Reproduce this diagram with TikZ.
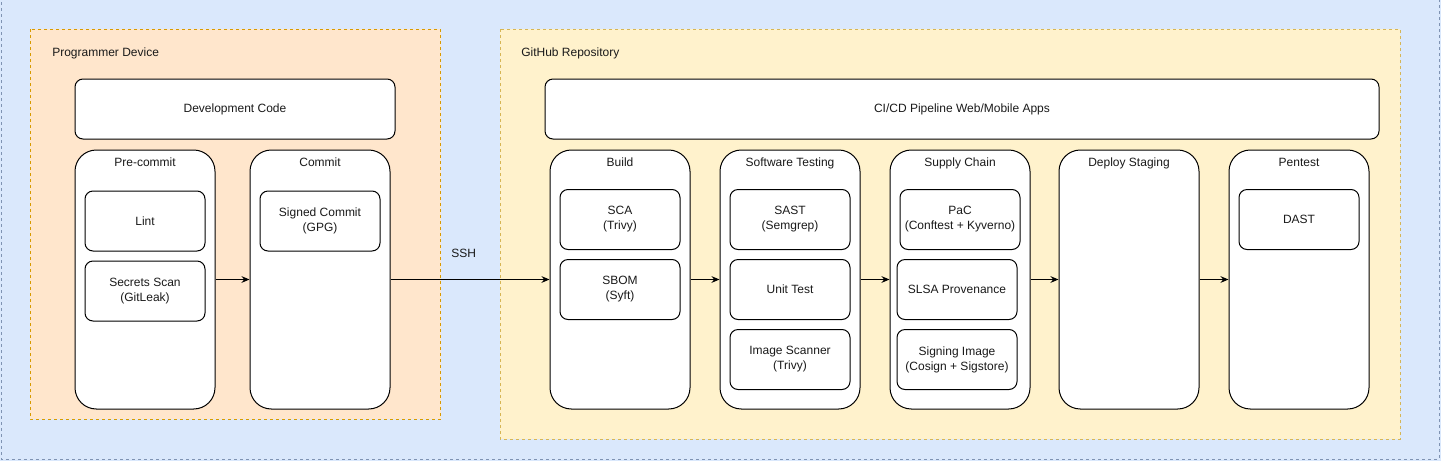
\documentclass[tikz,border=0pt]{standalone}
\usepackage{fontspec}
\setmainfont{Liberation Sans}
\usetikzlibrary{positioning, arrows.meta}

\definecolor{bgblue}{HTML}{DAE8FC}
\definecolor{bgblueline}{HTML}{7F93B3}
\definecolor{devfill}{HTML}{FFE6CC}
\definecolor{devline}{HTML}{D79B00}
\definecolor{repofill}{HTML}{FFF2CC}
\definecolor{repoline}{HTML}{D6B656}
\definecolor{txt}{HTML}{1A1A1A}

\begin{document}
\begin{tikzpicture}[
        x=0.75pt, y=-0.75pt, >={Stealth[length=6pt, width=5pt]},
        font=\fontsize{9}{11.25}\selectfont, text=txt,
        group/.style={draw=#1, dash pattern=on 2.25pt off 2.25pt, line width=0.6pt},
        grouptitle/.style={anchor=west, inner sep=0pt},
        wide/.style={draw, rounded corners=6pt, line width=0.75pt, fill=white, minimum height=45pt},
        stage/.style={draw, rounded corners=16pt, line width=0.75pt, fill=white, minimum width=105pt, minimum height=194.25pt},
        stagetitle/.style={inner sep=0pt, text height=7pt, text depth=2pt},
        tool/.style={draw, rounded corners=6pt, line width=0.75pt, fill=white, minimum width=90pt, minimum height=45pt, align=center, inner sep=1pt},
        flow/.style={->, line width=0.75pt}
    ]
        \useasboundingbox (0,0) rectangle (1441,461);

        % --- BACKGROUND & GROUPS ---
        \fill[bgblue] (0,0) rectangle (1441,461);
        \draw[group=bgblueline] (1,-10) rectangle (1439,459);
        \fill[devfill] (30,29) rectangle (440.5,419);
        \draw[group=devline] (30,29) rectangle (440.5,419);
        \fill[repofill] (500,29) rectangle (1400,439);
        \draw[group=repoline] (500,29) rectangle (1400,439);
        \node[grouptitle] (dev_title) at (52,53) {Programmer Device};
        \node[grouptitle] (repo_title) at (521,53) {GitHub Repository};

        % --- PROGRAMMER DEVICE ---
        \node[wide, minimum width=240pt] (devcode) at (235,109) {Development Code};

        \node[stage] (precommit) at (145,279.5) {};
        \node[stagetitle, below=5.25pt of precommit.north] (precommit_t) {Pre-commit};
        \node[tool] (lint) at (145,221) {Lint};
        \node[tool] (secrets) at (145,291) {Secrets Scan\\(GitLeak)};

        \node[stage] (commit) at (320,279.5) {};
        \node[stagetitle, below=5.25pt of commit.north] (commit_t) {Commit};
        \node[tool] (signed) at (320,221) {Signed Commit\\(GPG)};

        % --- GITHUB REPOSITORY ---
        \node[wide, minimum width=625.5pt] (cicd) at (962,109) {CI/CD Pipeline Web/Mobile Apps};

        % Build
        \node[stage] (build) at (620,279.5) {};
        \node[stagetitle, below=5.25pt of build.north] (build_t) {Build};
        \node[tool] (sca) at (620,219.5) {SCA\\(Trivy)};
        \node[tool] (sbom) at (620,289.5) {SBOM\\(Syft)};

        % Software Testing
        \node[stage] (swtest) at (790,279.5) {};
        \node[stagetitle, below=5.25pt of swtest.north] (swtest_t) {Software Testing};
        \node[tool] (sast) at (790,219.5) {SAST\\(Semgrep)};
        \node[tool] (unittest) at (790,289.5) {Unit Test};
        \node[tool] (imgscan) at (790,359.5) {Image Scanner\\(Trivy)};

        % Supply Chain
        \node[stage] (supply) at (960,279.5) {};
        \node[stagetitle, below=5.25pt of supply.north] (supply_t) {Supply Chain};
        \node[tool] (pac) at (960,219.5) {PaC\\(Conftest + Kyverno)};
        \node[tool] (slsa) at (957,289.5) {SLSA Provenance};
        \node[tool] (signimg) at (957,359.5) {Signing Image\\(Cosign + Sigstore)};

        % Deploy Staging
        \node[stage] (deploy) at (1129,279.5) {};
        \node[stagetitle, below=5.25pt of deploy.north] (deploy_t) {Deploy Staging};

        % Pentest
        \node[stage] (pentest) at (1299,279.5) {};
        \node[stagetitle, below=5.25pt of pentest.north] (pentest_t) {Pentest};
        \node[tool] (dast) at (1299,219.5) {DAST};

        % --- CONNECTIONS ---
        \draw[flow] (precommit) -- (commit);
        \draw[flow] (commit) -- node[above=13pt, pos=0.46] (ssh) {SSH} (build);
        \draw[flow] (build) -- (swtest);
        \draw[flow] (swtest) -- (supply);
        \draw[flow] (supply) -- (deploy);
        \draw[flow] (deploy) -- (pentest);

    \end{tikzpicture}
\end{document}
